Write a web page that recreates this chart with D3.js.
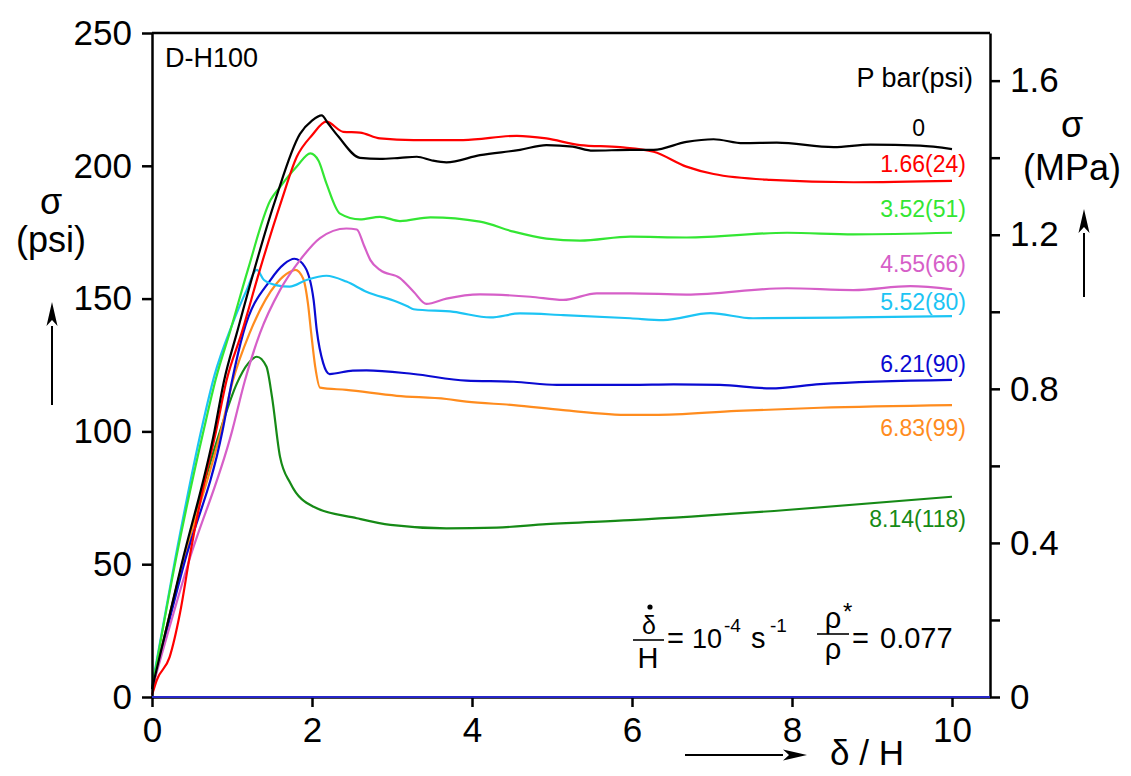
<!DOCTYPE html>
<html><head><meta charset="utf-8">
<script src="https://cdn.jsdelivr.net/npm/d3@7"></script>
<style>
html,body{margin:0;padding:0;background:#fff;}
svg text{font-family:"Liberation Sans",Arial,sans-serif;}
</style>
</head><body>
<svg id="chart" width="1131" height="776"></svg>
<script>
// ---- data (x = δ/H, y = σ in psi) ----
const seriesNames = ["0","1.66(24)","3.52(51)","4.55(66)","5.52(80)","6.21(90)","6.83(99)","8.14(118)"];
const seriesColors = ["#000000","#ff0000","#33e633","#d65fc8","#1cc4f4","#0a0ad2","#ff8c1e","#168a16"];
const labelAt = [211.2,197.8,180.8,160.1,145.7,122.5,98.3,64.1];

const s0 = [[0,3],[0.37,50],[0.78,100],[0.9,119],[1.06,137],[1.54,187],[1.85,212],[2.0,217],[2.12,219],[2.2,216],[2.33,211],[2.6,203],[2.85,202.6],[3.1,203],[3.31,203.4],[3.5,202],[3.68,201.3],[4.1,204],[4.6,206],[4.93,207.8],[5.26,207.2],[5.51,205.7],[5.98,206],[6.27,206],[6.68,209],[7.02,210],[7.39,208.5],[7.81,208.7],[8.52,207],[8.98,208],[9.6,207.6],[10,206.3]];
const s1 = [[0,0.8],[0.06,6.4],[0.22,15],[0.35,31.6],[0.47,52.7],[0.66,81.7],[0.8,100],[0.93,119],[1.12,137],[1.35,161],[1.62,187],[1.81,203.4],[2.0,211.5],[2.18,216.6],[2.39,212.8],[2.6,212.5],[2.85,210.3],[3.27,209.7],[3.89,209.7],[4.56,211.3],[4.93,210.3],[5.35,207.8],[5.85,207],[6.27,205.3],[6.68,199.7],[7.02,196.9],[7.73,194.7],[8.77,193.8],[10,194.3]];
const s2 = [[0,3],[0.3,52],[0.65,101],[0.8,120],[0.98,138],[1.2,161],[1.48,187],[1.6,192],[1.81,199.7],[1.98,204.7],[2.08,202],[2.18,193.4],[2.35,182],[2.6,179.8],[2.85,180.8],[3.1,179.2],[3.48,180.6],[4.1,179],[4.52,175.2],[4.93,172.6],[5.35,171.8],[5.98,173.3],[6.68,173],[7.94,174.8],[8.77,174.2],[10,174.8]];
const s3 = [[0,3],[0.45,50],[1.0,100],[1.16,119],[1.35,137],[1.6,153.2],[1.85,164.5],[2.1,172.8],[2.43,176.4],[2.56,176],[2.65,170],[2.73,164.5],[2.85,160.8],[3.1,157.7],[3.27,152.6],[3.43,148],[3.68,150],[4.1,151.6],[4.73,150.7],[5.14,149.5],[5.56,152],[5.98,152],[6.68,151.5],[7.94,153.9],[8.77,153.2],[9.48,154.7],[10,153.5]];
const s4 = [[0,4],[0.29,52],[0.62,101],[0.78,121],[1.0,140],[1.18,153],[1.31,160.8],[1.4,157],[1.56,155],[1.72,154.5],[1.93,157],[2.18,158.6],[2.43,156.4],[2.68,152.6],[3.06,148.8],[3.2,147],[3.27,146],[3.77,145],[4.23,142.9],[4.6,144.4],[5.14,143.8],[5.98,142.6],[6.39,141.9],[6.98,144.5],[7.51,142.6],[8.77,142.9],[10,143.4]];
const s5 = [[0,3],[0.4,50],[0.88,100],[1.0,119],[1.14,137],[1.48,157],[1.65,163],[1.78,165],[1.91,162],[2.02,149.5],[2.06,138],[2.14,125.7],[2.22,121.6],[2.51,122.9],[2.68,123],[3.27,121.6],[3.93,119.1],[4.52,118.7],[5.06,117.5],[5.98,117.5],[6.52,117.7],[7.1,117.5],[7.73,116.2],[8.35,117.8],[10,119.4]];
const s6 = [[0,3],[0.38,50],[0.86,100],[1.01,119],[1.22,137],[1.56,155.8],[1.72,160],[1.79,160.8],[1.89,157.5],[1.95,148],[1.99,137],[2.04,124.4],[2.1,116.5],[2.43,115.6],[3.06,113.4],[3.68,112.2],[3.93,111.2],[4.52,109.9],[5.14,108],[5.98,106.2],[6.27,106.2],[7.31,107.7],[8.35,108.9],[10,109.9]];
const s7 = [[0,3],[0.38,50],[0.85,100],[1.06,118],[1.2,125.5],[1.31,128.1],[1.43,124.4],[1.5,113],[1.6,90.5],[1.73,80.5],[2.02,71.6],[2.56,67.3],[2.98,64.8],[3.68,63.5],[4.31,63.8],[4.93,65.1],[5.98,66.6],[7.93,70.4],[10,75.4]];
const allSeries = [s0,s1,s2,s3,s4,s5,s6,s7];

const xTicks = [0,2,4,6,8,10];
const yTicks = [0,50,100,150,200,250];
const yRightTicks = [0,0.2,0.4,0.6,0.8,1.0,1.2,1.4,1.6];
const yRightLabels = [0,0.4,0.8,1.2,1.6];
const psiPerMPa = 145.038;

// ---- layout ----
const svg = d3.select("#chart");
const L = 152, R = 990, T = 33, B = 697;
const x = d3.scaleLinear().domain([0,10.475]).range([L,R]);
const y = d3.scaleLinear().domain([0,250]).range([B,T]);
const yR = d3.scaleLinear().domain([0,250/psiPerMPa]).range([B,T]);

// curves
const line = d3.line().x(d=>x(d[0])).y(d=>y(d[1])).curve(d3.curveMonotoneX);
const order = [7,6,5,4,3,2,1,0];
order.forEach(i=>{
  svg.append("path").attr("d", line(allSeries[i])).attr("fill","none")
    .attr("stroke", seriesColors[i]).attr("stroke-width",2.2).attr("stroke-linejoin","round");
});

// frame
svg.append("line").attr("x1",L).attr("x2",R).attr("y1",T).attr("y2",T).attr("stroke","#000").attr("stroke-width",2.5);

// left axis
const gL = svg.append("g").attr("transform",`translate(${L},0)`)
  .call(d3.axisLeft(y).tickValues(yTicks).tickSize(10).tickSizeOuter(0).tickPadding(10));
// right axis
const gR = svg.append("g").attr("transform",`translate(${R},0)`)
  .call(d3.axisRight(yR).tickValues(yRightTicks).tickSize(10).tickSizeOuter(0).tickPadding(10)
    .tickFormat(d => yRightLabels.some(v=>Math.abs(v-d)<1e-9) ? (d===0?"0":d3.format(".1f")(d)) : ""));
// bottom axis
const gB = svg.append("g").attr("transform",`translate(0,${B})`)
  .call(d3.axisBottom(x).tickValues(xTicks).tickSize(10).tickSizeOuter(0).tickPadding(10).tickFormat(d3.format("d")));
[gL,gR,gB].forEach(g=>{
  g.select(".domain").attr("stroke","#000").attr("stroke-width",2.5);
  g.selectAll(".tick line").attr("stroke","#000").attr("stroke-width",2.5);
  g.selectAll(".tick text").attr("font-size",35).attr("fill","#000").attr("font-family","Liberation Sans, Arial, sans-serif");
});
// blue trace along zero
svg.append("line").attr("x1",x(0)).attr("x2",R).attr("y1",y(0)).attr("y2",y(0)).attr("stroke","#2626c8").attr("stroke-width",1.8);

// series labels
const lab = svg.append("g").attr("font-size",23).attr("text-anchor","end");
seriesNames.forEach((n,i)=>{
  lab.append("text").attr("x", i===0 ? 925 : 966).attr("y", y(labelAt[i]))
    .attr("fill", seriesColors[i]).text(n);
});
svg.append("text").attr("x",973).attr("y",87).attr("font-size",27).attr("text-anchor","end").text("P bar(psi)");
svg.append("text").attr("x",165).attr("y",67).attr("font-size",27).text("D-H100");

// axis titles
svg.append("text").attr("x",51).attr("y",214).attr("font-size",36).attr("text-anchor","middle").text("σ");
svg.append("text").attr("x",51).attr("y",252).attr("font-size",36).attr("text-anchor","middle").text("(psi)");
svg.append("text").attr("x",1072).attr("y",137).attr("font-size",36).attr("text-anchor","middle").text("σ");
svg.append("text").attr("x",1072).attr("y",180).attr("font-size",36).attr("text-anchor","middle").text("(MPa)");
svg.append("text").attr("x",830).attr("y",765).attr("font-size",35).text("δ / H");

// arrows
function arrow(x1,y1,x2,y2){
  const ang = Math.atan2(y2-y1,x2-x1), len=24, hw=5.5;
  const bx = x2-len*Math.cos(ang), by = y2-len*Math.sin(ang);
  svg.append("line").attr("x1",x1).attr("y1",y1).attr("x2",bx).attr("y2",by).attr("stroke","#000").attr("stroke-width",2);
  const px=-Math.sin(ang)*hw, py=Math.cos(ang)*hw;
  svg.append("path").attr("d",`M${x2},${y2}L${bx+px},${by+py}L${bx+len*0.25*Math.cos(ang)},${by+len*0.25*Math.sin(ang)}L${bx-px},${by-py}Z`).attr("fill","#000");
}
arrow(52,405,52,302);
arrow(1084,297,1084,209);
arrow(685,755,807,755);

// formula
const f = svg.append("g").attr("font-size",29).attr("fill","#000");
f.append("text").attr("x",649).attr("y",634).attr("font-size",25).attr("text-anchor","middle").text("δ");
f.append("circle").attr("cx",650).attr("cy",607).attr("r",2.6).attr("fill","#000");
f.append("line").attr("x1",633).attr("x2",664).attr("y1",640).attr("y2",640).attr("stroke","#000").attr("stroke-width",1.6);
f.append("text").attr("x",648).attr("y",668).attr("text-anchor","middle").text("H");
f.append("text").attr("x",667).attr("y",648).text("=");
f.append("text").attr("x",692).attr("y",648).attr("font-size",27).text("10");
f.append("text").attr("x",724).attr("y",632).attr("font-size",19).text("-4");
f.append("text").attr("x",751).attr("y",648).text("s");
f.append("text").attr("x",770).attr("y",632).attr("font-size",19).text("-1");
f.append("text").attr("x",833).attr("y",628).attr("text-anchor","middle").text("ρ");
f.append("text").attr("x",843).attr("y",620).attr("font-size",24).text("*");
f.append("line").attr("x1",817).attr("x2",849).attr("y1",634).attr("y2",634).attr("stroke","#000").attr("stroke-width",1.6);
f.append("text").attr("x",833).attr("y",659).attr("text-anchor","middle").text("ρ");
f.append("text").attr("x",852).attr("y",648).text("=");
f.append("text").attr("x",880).attr("y",648).text("0.077");
</script>
</body></html>
